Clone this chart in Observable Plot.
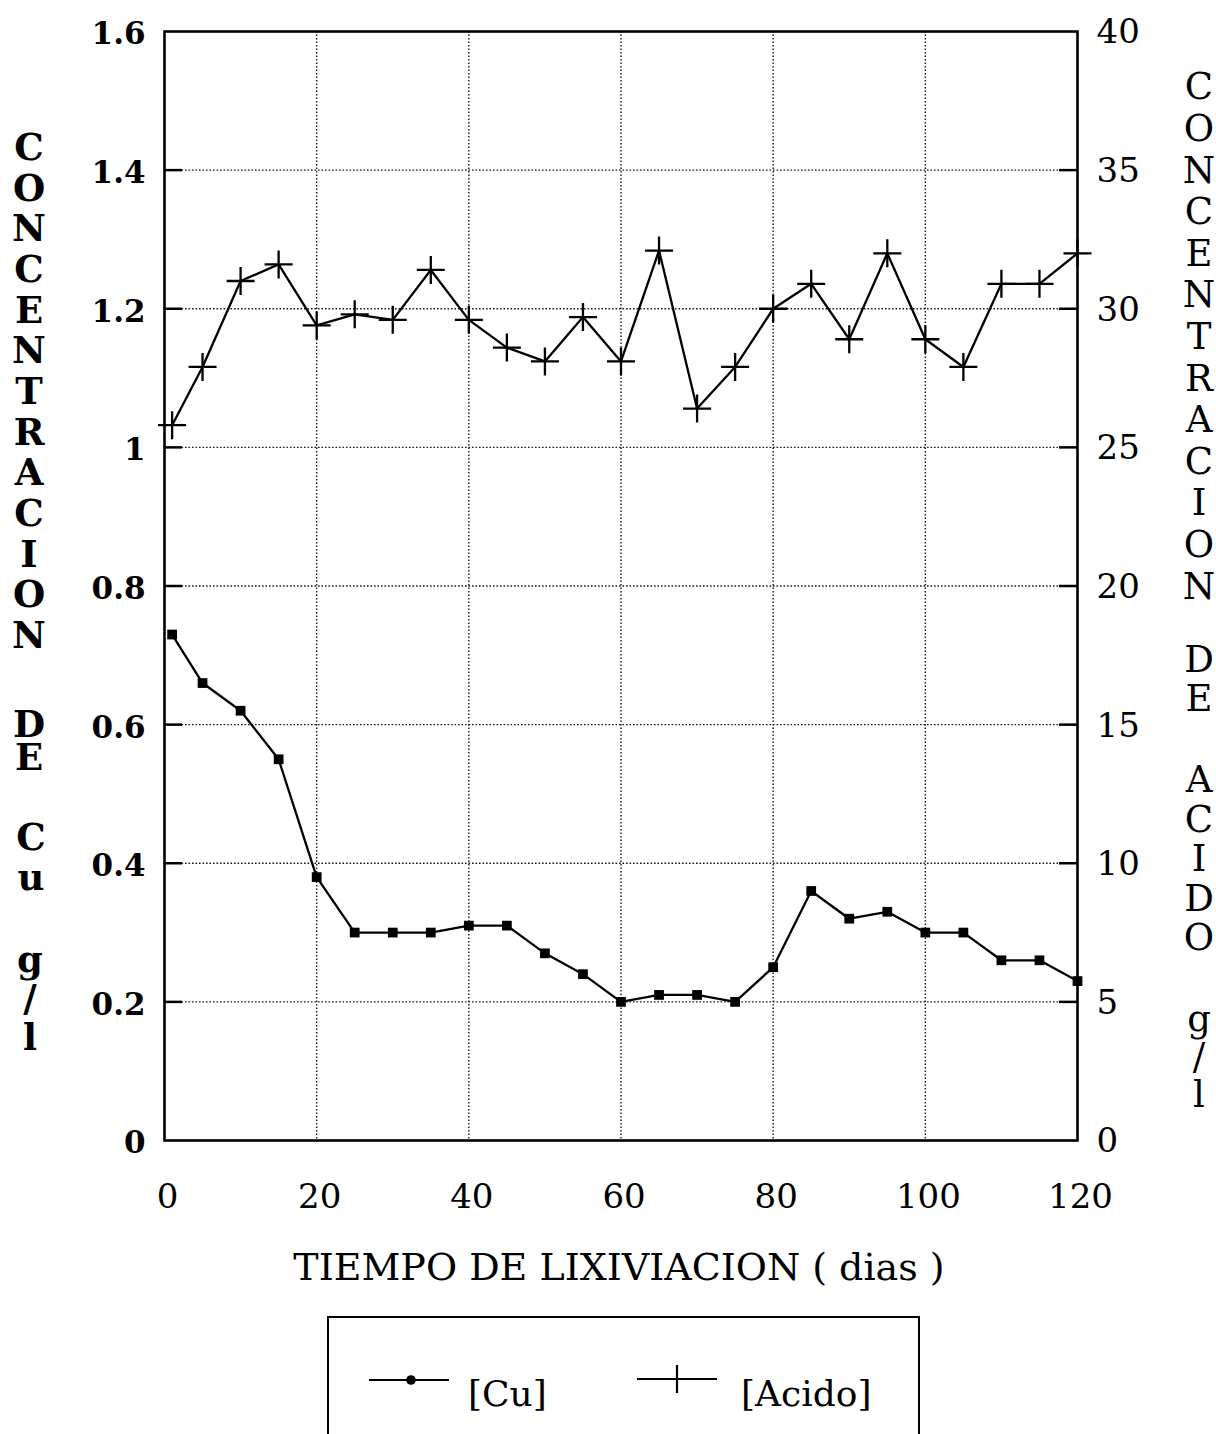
<!DOCTYPE html>
<html>
<head>
<meta charset="utf-8">
<script src="https://cdn.jsdelivr.net/npm/d3@7"></script>
<script src="https://cdn.jsdelivr.net/npm/@observablehq/plot@0.6"></script>
<style>
  html, body { margin: 0; padding: 0; background: #fff; overflow: hidden; }
  #wrap { position: relative; width: 1216px; height: 1434px; font-family: "DejaVu Serif", serif; color: #000; }
  #chart { position: absolute; left: 0; top: 0; }
  .grp { position: absolute; white-space: pre; text-align: center; width: 50px; transform: translateX(-50%); }
  #xtitle { position: absolute; left: 0; width: 1238px; text-align: center; font-size: 38px; line-height: 1; top: 1248px; }
  #legend { position: absolute; left: 327px; top: 1316px; width: 593px; height: 160px; border: 2.5px solid #000; box-sizing: border-box; }
  .lt { position: absolute; font-size: 36px; line-height: 1; white-space: pre; }
  .ls { position: absolute; }
</style>
</head>
<body>
<div id="wrap">
  <div id="chart"></div>
  <div id="xtitle"></div>
  <div id="legend"></div>
</div>
<script>
// ---- data ----
const days = [1, 5, 10, 15, 20, 25, 30, 35, 40, 45, 50, 55, 60, 65, 70, 75, 80, 85, 90, 95, 100, 105, 110, 115, 120];
const cu = [0.73, 0.66, 0.62, 0.55, 0.38, 0.30, 0.30, 0.30, 0.31, 0.31, 0.27, 0.24, 0.20, 0.21, 0.21, 0.20, 0.25, 0.36, 0.32, 0.33, 0.30, 0.30, 0.26, 0.26, 0.23];
const acid = [25.8, 27.9, 31.0, 31.6, 29.4, 29.8, 29.6, 31.4, 29.6, 28.6, 28.1, 29.7, 28.1, 32.1, 26.4, 27.9, 30.0, 30.9, 28.9, 32.0, 28.9, 27.9, 30.9, 30.9, 32.0];
const xTicks = [0, 20, 40, 60, 80, 100, 120];
const leftTicks = [0, 0.2, 0.4, 0.6, 0.8, 1.0, 1.2, 1.4, 1.6];
const rightTicks = [0, 5, 10, 15, 20, 25, 30, 35, 40];
const acidPerCu = 40 / 1.6; // right axis (acid g/l) per left axis unit (Cu g/l)

const leftTitle = ["CONCENTRACION", "DE", "Cu", "g/l"];
const rightTitle = ["CONCENTRACION", "DE", "ACIDO", "g/l"];
const legendLabels = ["[Cu]", "[Acido]"];
const xTitle = "TIEMPO DE LIXIVIACION ( dias )";

const rows = days.map((d, i) => ({day: d, cu: cu[i], acid: acid[i]}));
const toLeft = d => d / acidPerCu;
const fmtLeft = d => String(+d.toFixed(1));

const plusSymbol = {
  draw(ctx, size) {
    const r = Math.sqrt(size / Math.PI);
    ctx.moveTo(-r, 0); ctx.lineTo(r, 0);
    ctx.moveTo(0, -r); ctx.lineTo(0, r);
  }
};

const W = 1216, ML = 164, MR = 139, TICK = 18;
const frameW = W - ML - MR;
const grid = {stroke: "#1a1a1a", strokeOpacity: 1, strokeWidth: 1.4, strokeDasharray: "1.6,1.9"};

const chart = Plot.plot({
  width: W,
  height: 1230,
  marginLeft: ML,
  marginRight: MR,
  marginTop: 31,
  marginBottom: 90,
  x: {domain: [0, 120], axis: null},
  y: {domain: [0, 1.6], axis: null},
  style: {fontFamily: '"DejaVu Serif", serif', background: "#fff", color: "#000", overflow: "visible"},
  marks: [
    Plot.gridX(xTicks.slice(1, -1), grid),
    Plot.gridY(leftTicks.slice(1, -1), grid),
    // inward tick marks (left and right)
    Plot.tickY(leftTicks.slice(1, -1), {y: d => d, stroke: "#000", strokeWidth: 2.5, insetRight: frameW - TICK}),
    Plot.tickY(rightTicks.slice(1, -1), {y: toLeft, stroke: "#000", strokeWidth: 2.5, insetLeft: frameW - TICK}),
    // tick labels
    Plot.axisY(leftTicks, {anchor: "left", tickSize: 0, tickPadding: 19, fontSize: 31, fontWeight: "bold", dy: 3, tickFormat: fmtLeft, label: null}),
    Plot.axisY(rightTicks, {y: toLeft, anchor: "right", tickSize: 0, tickPadding: 19, fontSize: 34, dy: 1, tickFormat: d => String(d), label: null}),
    Plot.axisX(xTicks, {anchor: "bottom", tickSize: 0, tickPadding: 43, fontSize: 34, dx: 3, tickFormat: d => String(d), label: null}),
    Plot.frame({stroke: "#000", strokeWidth: 2.6}),
    // Cu series
    Plot.line(rows, {x: "day", y: "cu", stroke: "#000", strokeWidth: 2.3}),
    Plot.dot(rows, {x: "day", y: "cu", symbol: "square", r: 5.5, fill: "#000"}),
    // Acid series (right axis)
    Plot.line(rows, {x: "day", y: d => toLeft(d.acid), stroke: "#000", strokeWidth: 2.3}),
    Plot.dot(rows, {x: "day", y: d => toLeft(d.acid), symbol: plusSymbol, r: 14, stroke: "#000", strokeWidth: 2.3, fill: "none"})
  ]
});
document.getElementById("chart").appendChild(chart);
document.getElementById("xtitle").textContent = xTitle;

// ---- stacked vertical titles (one text block per word, one letter per line) ----
const wrap = document.getElementById("wrap");
function stack(text, cx, firstBaseline, pitch, fs, weight) {
  const d = document.createElement("div");
  d.className = "grp";
  d.textContent = [...text].join("\n");
  d.style.left = cx + "px";
  d.style.fontSize = fs + "px";
  d.style.lineHeight = pitch + "px";
  d.style.fontWeight = weight;
  d.style.top = (firstBaseline - pitch / 2 - 0.346 * fs) + "px";
  wrap.appendChild(d);
}
// left
stack(leftTitle[0], 29, 160, 40.67, 37, "bold");
stack(leftTitle[1], 29, 737, 33, 37, "bold");
stack(leftTitle[2], 31, 850, 40, 37, "bold");
stack(leftTitle[3], 30, 972, 39, 37, "bold");
// right
stack(rightTitle[0], 1199, 100, 41.6, 37, "normal");
stack(rightTitle[1], 1199, 672, 39, 37, "normal");
stack(rightTitle[2], 1199, 793, 39.5, 37, "normal");
stack(rightTitle[3], 1199, 1032, 38, 37, "normal");

// ---- legend ----
const legend = document.getElementById("legend");
const ox = 327, oy = 1316;
function addSvg(x, y, w, h, inner) {
  const d = document.createElement("div");
  d.className = "ls";
  d.style.left = (x - ox) + "px";
  d.style.top = (y - oy) + "px";
  d.innerHTML = `<svg width="${w}" height="${h}" viewBox="0 0 ${w} ${h}">${inner}</svg>`;
  legend.appendChild(d);
}
addSvg(365, 1368, 84, 20, `<line x1="2" y1="10" x2="82" y2="10" stroke="#000" stroke-width="2.2"/><circle cx="44" cy="10" r="4.8" fill="#000"/>`);
addSvg(633, 1362, 84, 30, `<line x1="2" y1="15" x2="82" y2="15" stroke="#000" stroke-width="2.2"/><line x1="42" y1="1" x2="42" y2="29" stroke="#000" stroke-width="2.2"/>`);
function addText(x, baseline, t) {
  const s = document.createElement("span");
  s.className = "lt";
  s.textContent = t;
  s.style.left = (x - ox) + "px";
  s.style.top = (baseline - 0.846 * 36 - oy) + "px";
  legend.appendChild(s);
}
addText(466, 1404, legendLabels[0]);
addText(739, 1404, legendLabels[1]);
</script>
</body>
</html>
